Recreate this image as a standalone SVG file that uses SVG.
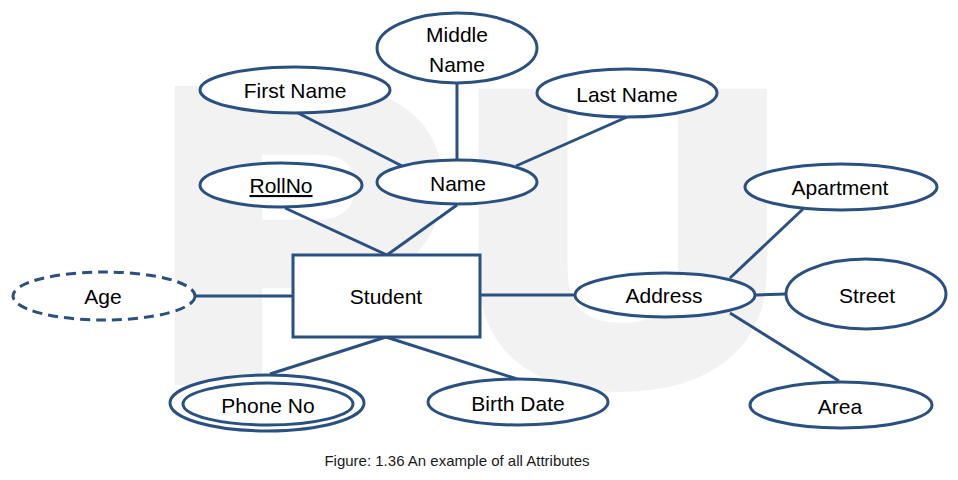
<svg xmlns="http://www.w3.org/2000/svg" width="958" height="480" viewBox="0 0 958 480">
<style>
.wm{font-family:"Liberation Sans",Arial,sans-serif;font-weight:bold;font-size:400px;fill:#f2f2f2;stroke:#f2f2f2;stroke-width:24;stroke-linejoin:miter}
.shape{fill:#fff;stroke:#2a5082;stroke-width:3}
.conn line{stroke:#2a5082;stroke-width:3}
.lbl{font-family:"Liberation Sans",Arial,sans-serif;font-size:21px;fill:#000;text-anchor:middle}
.cap{font-family:"Liberation Sans",Arial,sans-serif;font-size:15px;fill:#1a1a1a;text-anchor:middle}
</style>
<rect width="958" height="480" fill="#fff"/>
<g id="watermark">
<text class="wm" transform="translate(190,373) scale(1.07,1)" x="-29">P</text>
<text class="wm" transform="translate(496,376) scale(1.09,1)" x="-28">U</text>
</g>
<g id="connectors" class="conn">
<line x1="298" y1="113" x2="402" y2="166"/>
<line x1="457" y1="83" x2="457" y2="160"/>
<line x1="627" y1="117" x2="516" y2="166"/>
<line x1="285" y1="208" x2="387" y2="255"/>
<line x1="457" y1="205" x2="387" y2="255"/>
<line x1="195" y1="296" x2="293" y2="296"/>
<line x1="480" y1="295" x2="575" y2="295"/>
<line x1="730" y1="278" x2="803" y2="209"/>
<line x1="755" y1="295" x2="786" y2="294"/>
<line x1="730" y1="313" x2="839" y2="381"/>
<line x1="386" y1="337" x2="270" y2="374"/>
<line x1="386" y1="337" x2="517" y2="379"/>
</g>
<g id="middle-name"><ellipse class="shape" cx="457" cy="48" rx="80" ry="35"/><text class="lbl" x="457" y="42">Middle</text><text class="lbl" x="457" y="72">Name</text></g>
<g id="first-name"><ellipse class="shape" cx="295" cy="90" rx="95" ry="23"/><text class="lbl" x="295" y="98">First Name</text></g>
<g id="last-name"><ellipse class="shape" cx="627" cy="93" rx="90" ry="24"/><text class="lbl" x="627" y="102">Last Name</text></g>
<g id="name"><ellipse class="shape" cx="457" cy="182" rx="80" ry="22"/><text class="lbl" x="458" y="191">Name</text></g>
<g id="rollno"><ellipse class="shape" cx="281" cy="185" rx="81" ry="22"/><text class="lbl" x="281" y="193" text-decoration="underline">RollNo</text></g>
<g id="student"><rect class="shape" x="293" y="255" width="187" height="82"/><text class="lbl" x="386" y="304">Student</text></g>
<g id="age"><ellipse class="shape" cx="104" cy="296" rx="91" ry="24" stroke-dasharray="10 6"/><text class="lbl" x="103" y="304">Age</text></g>
<g id="address"><ellipse class="shape" cx="665" cy="295" rx="90" ry="22"/><text class="lbl" x="664" y="303">Address</text></g>
<g id="apartment"><ellipse class="shape" cx="841" cy="187" rx="96" ry="23"/><text class="lbl" x="840" y="195">Apartment</text></g>
<g id="street"><ellipse class="shape" cx="866" cy="294" rx="80" ry="35"/><text class="lbl" x="867" y="303">Street</text></g>
<g id="area"><ellipse class="shape" cx="841" cy="405" rx="91" ry="23"/><text class="lbl" x="840" y="414">Area</text></g>
<g id="phone-no"><ellipse class="shape" cx="267" cy="403" rx="97" ry="28"/><ellipse class="shape" cx="268" cy="404" rx="85" ry="21"/><text class="lbl" x="268" y="413">Phone No</text></g>
<g id="birth-date"><ellipse class="shape" cx="518" cy="402" rx="90" ry="23"/><text class="lbl" x="518" y="411">Birth Date</text></g>
<text id="caption" class="cap" x="457" y="466">Figure: 1.36 An example of all Attributes</text>
</svg>
